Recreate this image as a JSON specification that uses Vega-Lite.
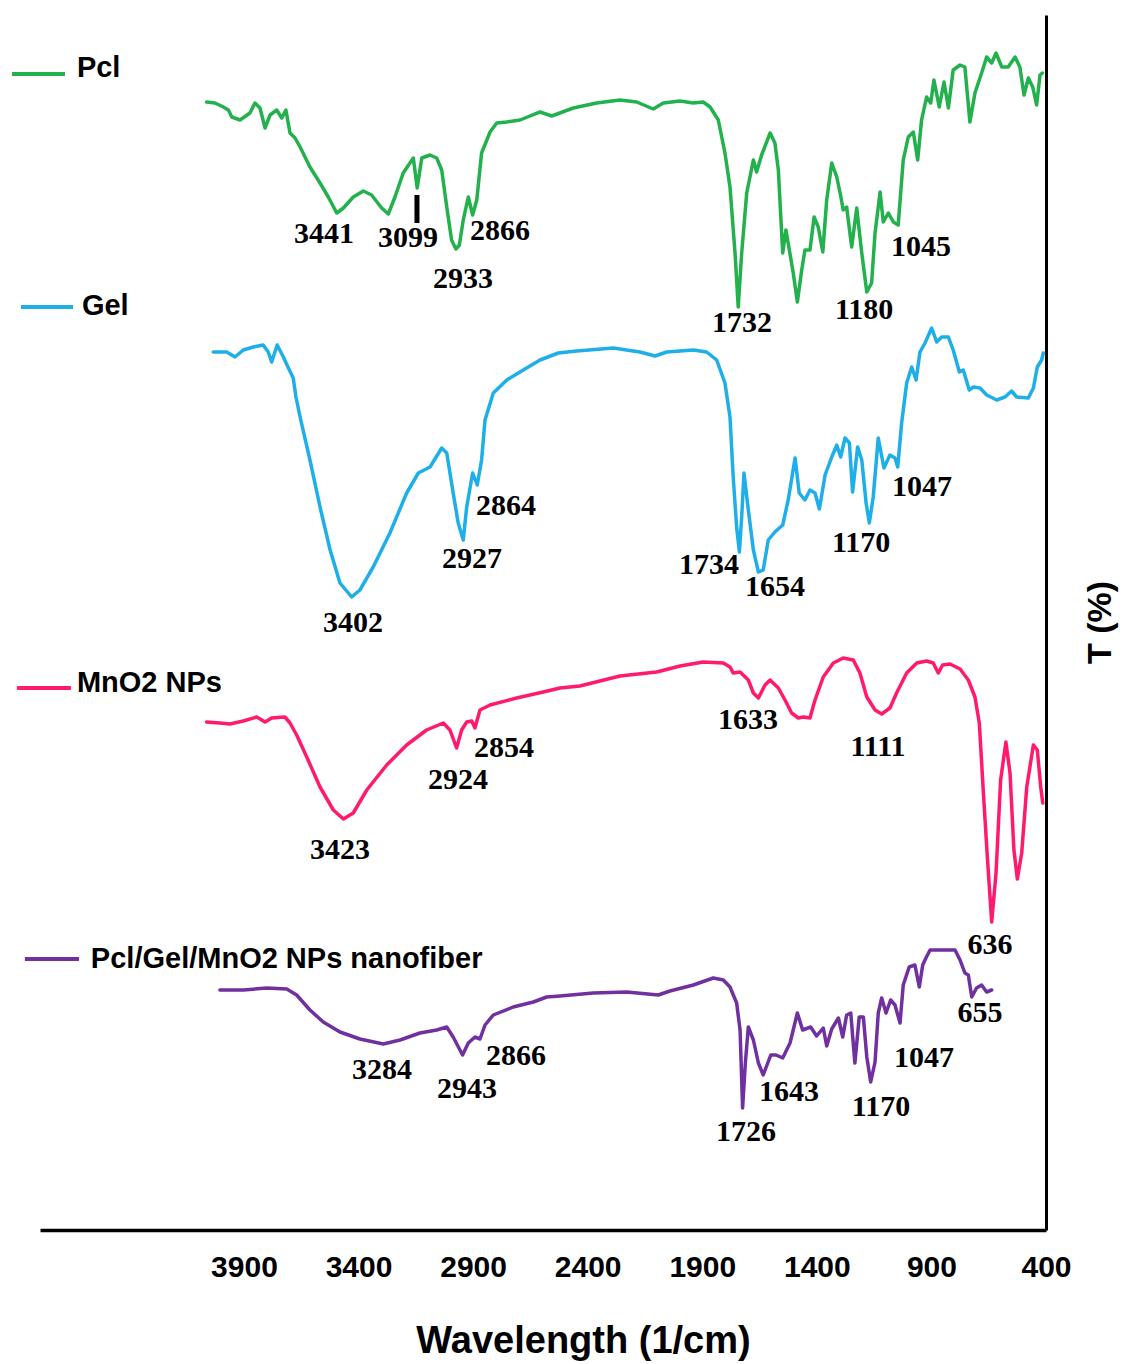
{
"$schema": "https://vega.github.io/schema/vega-lite/v6.json",
"width": 1006, "height": 1215,
"autosize": {"type": "none"},
"padding": {"left": 40, "top": 15, "right": 76, "bottom": 134},
"background": "white",
"config": {"view": {"stroke": null}},
"datasets": {
"spectra": [
{"s":"Pcl","wn":4063,"T":112.8},{"s":"Pcl","wn":4026,"T":112.7},{"s":"Pcl","wn":3990,"T":112.3},{"s":"Pcl","wn":3968,"T":112.0},{"s":"Pcl","wn":3953,"T":111.3},{"s":"Pcl","wn":3917,"T":111.0},{"s":"Pcl","wn":3874,"T":111.7},{"s":"Pcl","wn":3852,"T":112.7},{"s":"Pcl","wn":3830,"T":112.2},{"s":"Pcl","wn":3808,"T":110.2},{"s":"Pcl","wn":3786,"T":111.5},{"s":"Pcl","wn":3757,"T":112.0},{"s":"Pcl","wn":3735,"T":111.2},{"s":"Pcl","wn":3717,"T":112.0},{"s":"Pcl","wn":3699,"T":109.7},{"s":"Pcl","wn":3677,"T":109.2},{"s":"Pcl","wn":3655,"T":108.3},{"s":"Pcl","wn":3612,"T":106.3},{"s":"Pcl","wn":3568,"T":104.7},{"s":"Pcl","wn":3532,"T":103.3},{"s":"Pcl","wn":3495,"T":101.7},{"s":"Pcl","wn":3466,"T":102.2},{"s":"Pcl","wn":3423,"T":103.3},{"s":"Pcl","wn":3379,"T":103.9},{"s":"Pcl","wn":3343,"T":103.5},{"s":"Pcl","wn":3299,"T":102.2},{"s":"Pcl","wn":3270,"T":101.6},{"s":"Pcl","wn":3241,"T":103.3},{"s":"Pcl","wn":3205,"T":105.7},{"s":"Pcl","wn":3161,"T":107.2},{"s":"Pcl","wn":3144,"T":104.2},{"s":"Pcl","wn":3124,"T":107.2},{"s":"Pcl","wn":3088,"T":107.5},{"s":"Pcl","wn":3059,"T":107.2},{"s":"Pcl","wn":3037,"T":106.0},{"s":"Pcl","wn":3015,"T":102.3},{"s":"Pcl","wn":2994,"T":99.0},{"s":"Pcl","wn":2975,"T":98.1},{"s":"Pcl","wn":2960,"T":98.5},{"s":"Pcl","wn":2943,"T":101.0},{"s":"Pcl","wn":2921,"T":103.3},{"s":"Pcl","wn":2902,"T":101.5},{"s":"Pcl","wn":2884,"T":103.0},{"s":"Pcl","wn":2863,"T":107.7},{"s":"Pcl","wn":2826,"T":109.8},{"s":"Pcl","wn":2797,"T":110.7},{"s":"Pcl","wn":2753,"T":110.8},{"s":"Pcl","wn":2695,"T":111.0},{"s":"Pcl","wn":2652,"T":111.4},{"s":"Pcl","wn":2608,"T":111.8},{"s":"Pcl","wn":2557,"T":111.4},{"s":"Pcl","wn":2463,"T":112.2},{"s":"Pcl","wn":2361,"T":112.7},{"s":"Pcl","wn":2259,"T":113.0},{"s":"Pcl","wn":2186,"T":112.8},{"s":"Pcl","wn":2114,"T":112.1},{"s":"Pcl","wn":2070,"T":112.7},{"s":"Pcl","wn":1997,"T":112.9},{"s":"Pcl","wn":1939,"T":112.7},{"s":"Pcl","wn":1896,"T":112.8},{"s":"Pcl","wn":1866,"T":112.3},{"s":"Pcl","wn":1830,"T":111.0},{"s":"Pcl","wn":1801,"T":107.7},{"s":"Pcl","wn":1779,"T":104.3},{"s":"Pcl","wn":1757,"T":97.7},{"s":"Pcl","wn":1743,"T":92.3},{"s":"Pcl","wn":1728,"T":97.7},{"s":"Pcl","wn":1706,"T":103.7},{"s":"Pcl","wn":1677,"T":107.0},{"s":"Pcl","wn":1663,"T":105.8},{"s":"Pcl","wn":1641,"T":107.5},{"s":"Pcl","wn":1604,"T":109.7},{"s":"Pcl","wn":1583,"T":108.7},{"s":"Pcl","wn":1568,"T":106.0},{"s":"Pcl","wn":1549,"T":97.7},{"s":"Pcl","wn":1535,"T":100.0},{"s":"Pcl","wn":1520,"T":98.0},{"s":"Pcl","wn":1503,"T":95.7},{"s":"Pcl","wn":1485,"T":92.8},{"s":"Pcl","wn":1466,"T":96.0},{"s":"Pcl","wn":1452,"T":98.0},{"s":"Pcl","wn":1430,"T":98.0},{"s":"Pcl","wn":1412,"T":101.3},{"s":"Pcl","wn":1394,"T":100.3},{"s":"Pcl","wn":1374,"T":97.8},{"s":"Pcl","wn":1357,"T":103.0},{"s":"Pcl","wn":1335,"T":106.7},{"s":"Pcl","wn":1313,"T":105.3},{"s":"Pcl","wn":1295,"T":103.3},{"s":"Pcl","wn":1285,"T":102.0},{"s":"Pcl","wn":1270,"T":102.3},{"s":"Pcl","wn":1248,"T":98.3},{"s":"Pcl","wn":1226,"T":102.2},{"s":"Pcl","wn":1204,"T":97.7},{"s":"Pcl","wn":1182,"T":93.8},{"s":"Pcl","wn":1161,"T":94.7},{"s":"Pcl","wn":1146,"T":99.7},{"s":"Pcl","wn":1124,"T":103.8},{"s":"Pcl","wn":1110,"T":100.8},{"s":"Pcl","wn":1088,"T":101.7},{"s":"Pcl","wn":1066,"T":100.8},{"s":"Pcl","wn":1045,"T":100.5},{"s":"Pcl","wn":1023,"T":107.0},{"s":"Pcl","wn":1001,"T":109.3},{"s":"Pcl","wn":979,"T":109.8},{"s":"Pcl","wn":960,"T":107.0},{"s":"Pcl","wn":943,"T":111.0},{"s":"Pcl","wn":921,"T":113.3},{"s":"Pcl","wn":903,"T":112.7},{"s":"Pcl","wn":889,"T":115.0},{"s":"Pcl","wn":866,"T":112.3},{"s":"Pcl","wn":845,"T":114.8},{"s":"Pcl","wn":826,"T":112.2},{"s":"Pcl","wn":805,"T":116.0},{"s":"Pcl","wn":775,"T":116.5},{"s":"Pcl","wn":754,"T":116.3},{"s":"Pcl","wn":732,"T":110.8},{"s":"Pcl","wn":710,"T":113.7},{"s":"Pcl","wn":681,"T":115.7},{"s":"Pcl","wn":659,"T":117.3},{"s":"Pcl","wn":637,"T":116.7},{"s":"Pcl","wn":618,"T":117.7},{"s":"Pcl","wn":593,"T":116.3},{"s":"Pcl","wn":565,"T":116.3},{"s":"Pcl","wn":535,"T":117.3},{"s":"Pcl","wn":514,"T":116.3},{"s":"Pcl","wn":496,"T":113.5},{"s":"Pcl","wn":477,"T":115.2},{"s":"Pcl","wn":458,"T":114.3},{"s":"Pcl","wn":441,"T":112.5},{"s":"Pcl","wn":426,"T":115.5},{"s":"Pcl","wn":416,"T":115.7},
{"s":"Gel","wn":4034,"T":87.8},{"s":"Gel","wn":3975,"T":87.8},{"s":"Gel","wn":3939,"T":87.3},{"s":"Gel","wn":3903,"T":88.0},{"s":"Gel","wn":3859,"T":88.3},{"s":"Gel","wn":3816,"T":88.5},{"s":"Gel","wn":3794,"T":87.8},{"s":"Gel","wn":3779,"T":86.8},{"s":"Gel","wn":3755,"T":88.5},{"s":"Gel","wn":3728,"T":87.3},{"s":"Gel","wn":3706,"T":86.2},{"s":"Gel","wn":3685,"T":85.2},{"s":"Gel","wn":3673,"T":83.3},{"s":"Gel","wn":3655,"T":81.3},{"s":"Gel","wn":3612,"T":77.0},{"s":"Gel","wn":3568,"T":72.3},{"s":"Gel","wn":3524,"T":68.0},{"s":"Gel","wn":3481,"T":64.7},{"s":"Gel","wn":3430,"T":63.3},{"s":"Gel","wn":3394,"T":64.0},{"s":"Gel","wn":3336,"T":66.3},{"s":"Gel","wn":3263,"T":69.7},{"s":"Gel","wn":3190,"T":73.7},{"s":"Gel","wn":3139,"T":75.7},{"s":"Gel","wn":3088,"T":76.3},{"s":"Gel","wn":3037,"T":78.2},{"s":"Gel","wn":3015,"T":77.7},{"s":"Gel","wn":2987,"T":73.7},{"s":"Gel","wn":2965,"T":70.7},{"s":"Gel","wn":2943,"T":69.0},{"s":"Gel","wn":2928,"T":72.3},{"s":"Gel","wn":2902,"T":75.7},{"s":"Gel","wn":2882,"T":74.5},{"s":"Gel","wn":2863,"T":77.0},{"s":"Gel","wn":2848,"T":81.0},{"s":"Gel","wn":2812,"T":83.7},{"s":"Gel","wn":2753,"T":85.0},{"s":"Gel","wn":2681,"T":86.0},{"s":"Gel","wn":2608,"T":87.0},{"s":"Gel","wn":2528,"T":87.7},{"s":"Gel","wn":2448,"T":87.9},{"s":"Gel","wn":2288,"T":88.2},{"s":"Gel","wn":2172,"T":87.8},{"s":"Gel","wn":2106,"T":87.4},{"s":"Gel","wn":2055,"T":87.8},{"s":"Gel","wn":1939,"T":88.0},{"s":"Gel","wn":1881,"T":87.8},{"s":"Gel","wn":1837,"T":87.0},{"s":"Gel","wn":1801,"T":84.7},{"s":"Gel","wn":1779,"T":81.3},{"s":"Gel","wn":1765,"T":75.3},{"s":"Gel","wn":1750,"T":70.3},{"s":"Gel","wn":1738,"T":67.8},{"s":"Gel","wn":1728,"T":71.3},{"s":"Gel","wn":1718,"T":75.7},{"s":"Gel","wn":1699,"T":72.0},{"s":"Gel","wn":1677,"T":68.0},{"s":"Gel","wn":1655,"T":65.8},{"s":"Gel","wn":1634,"T":66.0},{"s":"Gel","wn":1612,"T":69.0},{"s":"Gel","wn":1583,"T":69.8},{"s":"Gel","wn":1549,"T":70.5},{"s":"Gel","wn":1525,"T":73.0},{"s":"Gel","wn":1495,"T":77.2},{"s":"Gel","wn":1477,"T":73.7},{"s":"Gel","wn":1452,"T":73.0},{"s":"Gel","wn":1430,"T":74.0},{"s":"Gel","wn":1408,"T":73.7},{"s":"Gel","wn":1389,"T":72.1},{"s":"Gel","wn":1364,"T":75.5},{"s":"Gel","wn":1335,"T":77.3},{"s":"Gel","wn":1313,"T":78.5},{"s":"Gel","wn":1296,"T":77.3},{"s":"Gel","wn":1277,"T":79.2},{"s":"Gel","wn":1258,"T":78.7},{"s":"Gel","wn":1244,"T":73.8},{"s":"Gel","wn":1222,"T":78.3},{"s":"Gel","wn":1204,"T":77.0},{"s":"Gel","wn":1185,"T":72.7},{"s":"Gel","wn":1171,"T":70.7},{"s":"Gel","wn":1154,"T":73.3},{"s":"Gel","wn":1132,"T":79.2},{"s":"Gel","wn":1107,"T":76.2},{"s":"Gel","wn":1081,"T":77.5},{"s":"Gel","wn":1059,"T":77.2},{"s":"Gel","wn":1047,"T":76.3},{"s":"Gel","wn":1030,"T":80.7},{"s":"Gel","wn":1008,"T":84.7},{"s":"Gel","wn":986,"T":86.3},{"s":"Gel","wn":967,"T":85.0},{"s":"Gel","wn":950,"T":87.8},{"s":"Gel","wn":928,"T":88.7},{"s":"Gel","wn":899,"T":90.2},{"s":"Gel","wn":877,"T":88.8},{"s":"Gel","wn":855,"T":89.3},{"s":"Gel","wn":826,"T":89.3},{"s":"Gel","wn":805,"T":88.0},{"s":"Gel","wn":778,"T":85.8},{"s":"Gel","wn":761,"T":86.0},{"s":"Gel","wn":735,"T":84.0},{"s":"Gel","wn":717,"T":84.3},{"s":"Gel","wn":688,"T":84.2},{"s":"Gel","wn":659,"T":83.5},{"s":"Gel","wn":615,"T":83.0},{"s":"Gel","wn":579,"T":83.3},{"s":"Gel","wn":550,"T":83.9},{"s":"Gel","wn":528,"T":83.3},{"s":"Gel","wn":477,"T":83.2},{"s":"Gel","wn":455,"T":84.2},{"s":"Gel","wn":438,"T":86.3},{"s":"Gel","wn":419,"T":87.0},{"s":"Gel","wn":412,"T":87.7},
{"s":"MnO2 NPs","wn":4063,"T":50.8},{"s":"MnO2 NPs","wn":4005,"T":50.7},{"s":"MnO2 NPs","wn":3961,"T":50.6},{"s":"MnO2 NPs","wn":3903,"T":50.9},{"s":"MnO2 NPs","wn":3844,"T":51.3},{"s":"MnO2 NPs","wn":3808,"T":50.8},{"s":"MnO2 NPs","wn":3779,"T":51.2},{"s":"MnO2 NPs","wn":3721,"T":51.3},{"s":"MnO2 NPs","wn":3699,"T":50.7},{"s":"MnO2 NPs","wn":3670,"T":49.5},{"s":"MnO2 NPs","wn":3626,"T":47.3},{"s":"MnO2 NPs","wn":3568,"T":44.3},{"s":"MnO2 NPs","wn":3510,"T":42.0},{"s":"MnO2 NPs","wn":3466,"T":41.1},{"s":"MnO2 NPs","wn":3423,"T":41.7},{"s":"MnO2 NPs","wn":3364,"T":44.0},{"s":"MnO2 NPs","wn":3277,"T":46.5},{"s":"MnO2 NPs","wn":3190,"T":48.5},{"s":"MnO2 NPs","wn":3103,"T":50.0},{"s":"MnO2 NPs","wn":3030,"T":50.7},{"s":"MnO2 NPs","wn":3001,"T":50.0},{"s":"MnO2 NPs","wn":2972,"T":48.2},{"s":"MnO2 NPs","wn":2950,"T":50.0},{"s":"MnO2 NPs","wn":2928,"T":50.8},{"s":"MnO2 NPs","wn":2906,"T":50.9},{"s":"MnO2 NPs","wn":2892,"T":50.2},{"s":"MnO2 NPs","wn":2870,"T":52.0},{"s":"MnO2 NPs","wn":2826,"T":52.5},{"s":"MnO2 NPs","wn":2710,"T":53.2},{"s":"MnO2 NPs","wn":2594,"T":53.8},{"s":"MnO2 NPs","wn":2521,"T":54.2},{"s":"MnO2 NPs","wn":2434,"T":54.4},{"s":"MnO2 NPs","wn":2259,"T":55.4},{"s":"MnO2 NPs","wn":2099,"T":55.8},{"s":"MnO2 NPs","wn":1997,"T":56.4},{"s":"MnO2 NPs","wn":1896,"T":56.8},{"s":"MnO2 NPs","wn":1808,"T":56.7},{"s":"MnO2 NPs","wn":1779,"T":56.3},{"s":"MnO2 NPs","wn":1765,"T":55.7},{"s":"MnO2 NPs","wn":1735,"T":55.8},{"s":"MnO2 NPs","wn":1699,"T":55.0},{"s":"MnO2 NPs","wn":1677,"T":53.7},{"s":"MnO2 NPs","wn":1655,"T":53.2},{"s":"MnO2 NPs","wn":1626,"T":54.5},{"s":"MnO2 NPs","wn":1604,"T":55.0},{"s":"MnO2 NPs","wn":1568,"T":54.2},{"s":"MnO2 NPs","wn":1539,"T":53.0},{"s":"MnO2 NPs","wn":1510,"T":51.7},{"s":"MnO2 NPs","wn":1481,"T":51.2},{"s":"MnO2 NPs","wn":1459,"T":51.3},{"s":"MnO2 NPs","wn":1430,"T":51.2},{"s":"MnO2 NPs","wn":1408,"T":53.0},{"s":"MnO2 NPs","wn":1372,"T":55.3},{"s":"MnO2 NPs","wn":1328,"T":56.7},{"s":"MnO2 NPs","wn":1285,"T":57.2},{"s":"MnO2 NPs","wn":1241,"T":57.0},{"s":"MnO2 NPs","wn":1212,"T":55.7},{"s":"MnO2 NPs","wn":1182,"T":53.3},{"s":"MnO2 NPs","wn":1146,"T":52.0},{"s":"MnO2 NPs","wn":1117,"T":51.6},{"s":"MnO2 NPs","wn":1081,"T":52.2},{"s":"MnO2 NPs","wn":1052,"T":53.7},{"s":"MnO2 NPs","wn":1008,"T":55.7},{"s":"MnO2 NPs","wn":964,"T":56.7},{"s":"MnO2 NPs","wn":921,"T":56.9},{"s":"MnO2 NPs","wn":892,"T":56.7},{"s":"MnO2 NPs","wn":870,"T":55.7},{"s":"MnO2 NPs","wn":851,"T":56.5},{"s":"MnO2 NPs","wn":819,"T":56.6},{"s":"MnO2 NPs","wn":775,"T":56.1},{"s":"MnO2 NPs","wn":739,"T":55.0},{"s":"MnO2 NPs","wn":710,"T":53.3},{"s":"MnO2 NPs","wn":691,"T":50.7},{"s":"MnO2 NPs","wn":674,"T":44.0},{"s":"MnO2 NPs","wn":656,"T":37.3},{"s":"MnO2 NPs","wn":637,"T":30.8},{"s":"MnO2 NPs","wn":618,"T":35.7},{"s":"MnO2 NPs","wn":598,"T":45.0},{"s":"MnO2 NPs","wn":575,"T":48.8},{"s":"MnO2 NPs","wn":557,"T":45.7},{"s":"MnO2 NPs","wn":540,"T":38.0},{"s":"MnO2 NPs","wn":525,"T":35.1},{"s":"MnO2 NPs","wn":506,"T":37.7},{"s":"MnO2 NPs","wn":484,"T":44.3},{"s":"MnO2 NPs","wn":455,"T":48.5},{"s":"MnO2 NPs","wn":438,"T":48.0},{"s":"MnO2 NPs","wn":423,"T":44.3},{"s":"MnO2 NPs","wn":414,"T":42.7},
{"s":"Pcl/Gel/MnO2 NPs nanofiber","wn":4005,"T":24.0},{"s":"Pcl/Gel/MnO2 NPs nanofiber","wn":3903,"T":24.0},{"s":"Pcl/Gel/MnO2 NPs nanofiber","wn":3801,"T":24.2},{"s":"Pcl/Gel/MnO2 NPs nanofiber","wn":3713,"T":24.1},{"s":"Pcl/Gel/MnO2 NPs nanofiber","wn":3670,"T":23.5},{"s":"Pcl/Gel/MnO2 NPs nanofiber","wn":3612,"T":22.0},{"s":"Pcl/Gel/MnO2 NPs nanofiber","wn":3554,"T":20.8},{"s":"Pcl/Gel/MnO2 NPs nanofiber","wn":3481,"T":19.8},{"s":"Pcl/Gel/MnO2 NPs nanofiber","wn":3394,"T":19.1},{"s":"Pcl/Gel/MnO2 NPs nanofiber","wn":3292,"T":18.6},{"s":"Pcl/Gel/MnO2 NPs nanofiber","wn":3219,"T":19.0},{"s":"Pcl/Gel/MnO2 NPs nanofiber","wn":3132,"T":19.7},{"s":"Pcl/Gel/MnO2 NPs nanofiber","wn":3059,"T":20.0},{"s":"Pcl/Gel/MnO2 NPs nanofiber","wn":3015,"T":20.3},{"s":"Pcl/Gel/MnO2 NPs nanofiber","wn":2987,"T":19.3},{"s":"Pcl/Gel/MnO2 NPs nanofiber","wn":2946,"T":17.5},{"s":"Pcl/Gel/MnO2 NPs nanofiber","wn":2921,"T":18.7},{"s":"Pcl/Gel/MnO2 NPs nanofiber","wn":2892,"T":19.3},{"s":"Pcl/Gel/MnO2 NPs nanofiber","wn":2870,"T":19.1},{"s":"Pcl/Gel/MnO2 NPs nanofiber","wn":2848,"T":20.5},{"s":"Pcl/Gel/MnO2 NPs nanofiber","wn":2812,"T":21.5},{"s":"Pcl/Gel/MnO2 NPs nanofiber","wn":2725,"T":22.3},{"s":"Pcl/Gel/MnO2 NPs nanofiber","wn":2637,"T":22.8},{"s":"Pcl/Gel/MnO2 NPs nanofiber","wn":2579,"T":23.3},{"s":"Pcl/Gel/MnO2 NPs nanofiber","wn":2521,"T":23.4},{"s":"Pcl/Gel/MnO2 NPs nanofiber","wn":2376,"T":23.7},{"s":"Pcl/Gel/MnO2 NPs nanofiber","wn":2230,"T":23.8},{"s":"Pcl/Gel/MnO2 NPs nanofiber","wn":2092,"T":23.5},{"s":"Pcl/Gel/MnO2 NPs nanofiber","wn":2041,"T":23.9},{"s":"Pcl/Gel/MnO2 NPs nanofiber","wn":1939,"T":24.5},{"s":"Pcl/Gel/MnO2 NPs nanofiber","wn":1852,"T":25.2},{"s":"Pcl/Gel/MnO2 NPs nanofiber","wn":1808,"T":25.0},{"s":"Pcl/Gel/MnO2 NPs nanofiber","wn":1779,"T":24.3},{"s":"Pcl/Gel/MnO2 NPs nanofiber","wn":1750,"T":22.7},{"s":"Pcl/Gel/MnO2 NPs nanofiber","wn":1735,"T":20.0},{"s":"Pcl/Gel/MnO2 NPs nanofiber","wn":1724,"T":12.2},{"s":"Pcl/Gel/MnO2 NPs nanofiber","wn":1712,"T":16.7},{"s":"Pcl/Gel/MnO2 NPs nanofiber","wn":1699,"T":20.3},{"s":"Pcl/Gel/MnO2 NPs nanofiber","wn":1677,"T":19.0},{"s":"Pcl/Gel/MnO2 NPs nanofiber","wn":1655,"T":16.7},{"s":"Pcl/Gel/MnO2 NPs nanofiber","wn":1634,"T":15.5},{"s":"Pcl/Gel/MnO2 NPs nanofiber","wn":1601,"T":17.5},{"s":"Pcl/Gel/MnO2 NPs nanofiber","wn":1578,"T":17.5},{"s":"Pcl/Gel/MnO2 NPs nanofiber","wn":1549,"T":17.2},{"s":"Pcl/Gel/MnO2 NPs nanofiber","wn":1517,"T":18.7},{"s":"Pcl/Gel/MnO2 NPs nanofiber","wn":1485,"T":21.7},{"s":"Pcl/Gel/MnO2 NPs nanofiber","wn":1462,"T":20.0},{"s":"Pcl/Gel/MnO2 NPs nanofiber","wn":1427,"T":20.3},{"s":"Pcl/Gel/MnO2 NPs nanofiber","wn":1401,"T":19.4},{"s":"Pcl/Gel/MnO2 NPs nanofiber","wn":1372,"T":20.2},{"s":"Pcl/Gel/MnO2 NPs nanofiber","wn":1357,"T":18.4},{"s":"Pcl/Gel/MnO2 NPs nanofiber","wn":1335,"T":20.1},{"s":"Pcl/Gel/MnO2 NPs nanofiber","wn":1306,"T":21.2},{"s":"Pcl/Gel/MnO2 NPs nanofiber","wn":1287,"T":19.3},{"s":"Pcl/Gel/MnO2 NPs nanofiber","wn":1270,"T":21.5},{"s":"Pcl/Gel/MnO2 NPs nanofiber","wn":1252,"T":21.7},{"s":"Pcl/Gel/MnO2 NPs nanofiber","wn":1234,"T":16.7},{"s":"Pcl/Gel/MnO2 NPs nanofiber","wn":1215,"T":21.3},{"s":"Pcl/Gel/MnO2 NPs nanofiber","wn":1197,"T":21.3},{"s":"Pcl/Gel/MnO2 NPs nanofiber","wn":1182,"T":17.3},{"s":"Pcl/Gel/MnO2 NPs nanofiber","wn":1165,"T":14.8},{"s":"Pcl/Gel/MnO2 NPs nanofiber","wn":1146,"T":16.8},{"s":"Pcl/Gel/MnO2 NPs nanofiber","wn":1132,"T":21.7},{"s":"Pcl/Gel/MnO2 NPs nanofiber","wn":1117,"T":23.2},{"s":"Pcl/Gel/MnO2 NPs nanofiber","wn":1098,"T":21.7},{"s":"Pcl/Gel/MnO2 NPs nanofiber","wn":1078,"T":23.0},{"s":"Pcl/Gel/MnO2 NPs nanofiber","wn":1059,"T":22.5},{"s":"Pcl/Gel/MnO2 NPs nanofiber","wn":1037,"T":20.7},{"s":"Pcl/Gel/MnO2 NPs nanofiber","wn":1023,"T":24.5},{"s":"Pcl/Gel/MnO2 NPs nanofiber","wn":997,"T":26.3},{"s":"Pcl/Gel/MnO2 NPs nanofiber","wn":972,"T":26.5},{"s":"Pcl/Gel/MnO2 NPs nanofiber","wn":953,"T":24.3},{"s":"Pcl/Gel/MnO2 NPs nanofiber","wn":938,"T":26.5},{"s":"Pcl/Gel/MnO2 NPs nanofiber","wn":924,"T":27.2},{"s":"Pcl/Gel/MnO2 NPs nanofiber","wn":906,"T":28.0},{"s":"Pcl/Gel/MnO2 NPs nanofiber","wn":855,"T":28.0},{"s":"Pcl/Gel/MnO2 NPs nanofiber","wn":797,"T":28.0},{"s":"Pcl/Gel/MnO2 NPs nanofiber","wn":775,"T":27.0},{"s":"Pcl/Gel/MnO2 NPs nanofiber","wn":754,"T":25.7},{"s":"Pcl/Gel/MnO2 NPs nanofiber","wn":739,"T":25.5},{"s":"Pcl/Gel/MnO2 NPs nanofiber","wn":724,"T":23.3},{"s":"Pcl/Gel/MnO2 NPs nanofiber","wn":703,"T":24.2},{"s":"Pcl/Gel/MnO2 NPs nanofiber","wn":681,"T":24.5},{"s":"Pcl/Gel/MnO2 NPs nanofiber","wn":659,"T":23.8},{"s":"Pcl/Gel/MnO2 NPs nanofiber","wn":637,"T":24.0}
],
"legendLines": [
{"s":"Pcl","wn":4912,"wn2":4681,"T":115.6},
{"s":"Gel","wn":4873,"wn2":4646,"T":92.3},
{"s":"MnO2 NPs","wn":4890,"wn2":4655,"T":54.2},
{"s":"Pcl/Gel/MnO2 NPs nanofiber","wn":4856,"wn2":4620,"T":27.1}
],
"legendText": [
{"s":"Pcl","wn":4629,"T":116.2},
{"s":"Gel","wn":4607,"T":92.4},
{"s":"MnO2 NPs","wn":4629,"T":54.7},
{"s":"Pcl/Gel/MnO2 NPs nanofiber","wn":4568,"T":27.1}
],
"peaks": [
{"label":"3441","wn":3551,"T":99.6},{"label":"3099","wn":3184,"T":99.2},{"label":"2933","wn":2944,"T":95.1},{"label":"2866","wn":2783,"T":99.9},{"label":"1732","wn":1727,"T":90.7},{"label":"1180","wn":1194,"T":92.0},{"label":"1045","wn":946,"T":98.3},
{"label":"3402","wn":3424,"T":60.7},{"label":"2927","wn":2905,"T":67.1},{"label":"2864","wn":2757,"T":72.4},{"label":"1734","wn":1871,"T":66.5},{"label":"1654","wn":1583,"T":64.3},{"label":"1170","wn":1207,"T":68.7},{"label":"1047","wn":941,"T":74.3},
{"label":"3423","wn":3481,"T":38.0},{"label":"2924","wn":2966,"T":45.0},{"label":"2854","wn":2765,"T":48.2},{"label":"1633","wn":1700,"T":51.0},{"label":"1111","wn":1133,"T":48.3},{"label":"636","wn":644,"T":28.5},
{"label":"3284","wn":3298,"T":16.0},{"label":"2943","wn":2927,"T":14.1},{"label":"2866","wn":2713,"T":17.4},{"label":"1726","wn":1709,"T":9.8},{"label":"1643","wn":1522,"T":13.8},{"label":"1170","wn":1120,"T":12.3},{"label":"1047","wn":932,"T":17.2},{"label":"655","wn":688,"T":21.7}
],
"marker": [
{"wn":3145,"T":103.5,"T2":100.7}
]
},
"encoding": {
"x": {"field":"wn","type":"quantitative","title":"Wavelength (1/cm)",
 "scale":{"domain":[400,4790],"reverse":true,"nice":false,"zero":false},
 "axis":{"values":[3900,3400,2900,2400,1900,1400,900,400],"format":"d","grid":false,"ticks":false,"domain":true,"domainColor":"black","domainWidth":3.5,
  "labelFont":"Liberation Sans","labelFontWeight":"bold","labelFontSize":30,"labelColor":"black","labelPadding":22,"labelFlush":false,"labelOverlap":false,"labelBound":false,
  "titleFont":"Liberation Sans","titleFontWeight":"bold","titleFontSize":38,"titleColor":"black","titleX":543,"titleY":122,"titleBaseline":"alphabetic","titleAlign":"center"}},
"y": {"field":"T","type":"quantitative","title":"T (%)",
 "scale":{"domain":[0,121.5],"nice":false,"zero":false},
 "axis":{"orient":"right","grid":false,"ticks":false,"labels":false,"domain":true,"domainColor":"black","domainWidth":3,
  "titleFont":"Liberation Sans","titleFontWeight":"bold","titleFontSize":34,"titleColor":"black","titleAngle":270,"titleX":54,"titleY":607,"titleAlign":"center","titleBaseline":"middle"}}
},
"layer": [
{"data":{"name":"spectra"},"mark":{"type":"line","strokeWidth":3.5,"strokeJoin":"round","strokeCap":"round"},
 "encoding":{"color":{"field":"s","type":"nominal","legend":null,"scale":{"domain":["Pcl","Gel","MnO2 NPs","Pcl/Gel/MnO2 NPs nanofiber"],"range":["#22b14c","#1eaee8","#ff1a6e","#7030a0"]}}}},
{"data":{"name":"legendLines"},"mark":{"type":"rule","strokeWidth":4},
 "encoding":{"x2":{"field":"wn2"},"color":{"field":"s","type":"nominal","legend":null}}},
{"data":{"name":"legendText"},"mark":{"type":"text","align":"left","baseline":"middle","font":"Liberation Sans","fontWeight":"bold","fontSize":29,"color":"black"},
 "encoding":{"text":{"field":"s"}}},
{"data":{"name":"peaks"},"mark":{"type":"text","align":"center","baseline":"middle","font":"Liberation Serif","fontWeight":"bold","fontSize":30,"color":"black"},
 "encoding":{"text":{"field":"label"}}},
{"data":{"name":"marker"},"mark":{"type":"rule","strokeWidth":5,"color":"black"},
 "encoding":{"y2":{"field":"T2"}}}
]
}
